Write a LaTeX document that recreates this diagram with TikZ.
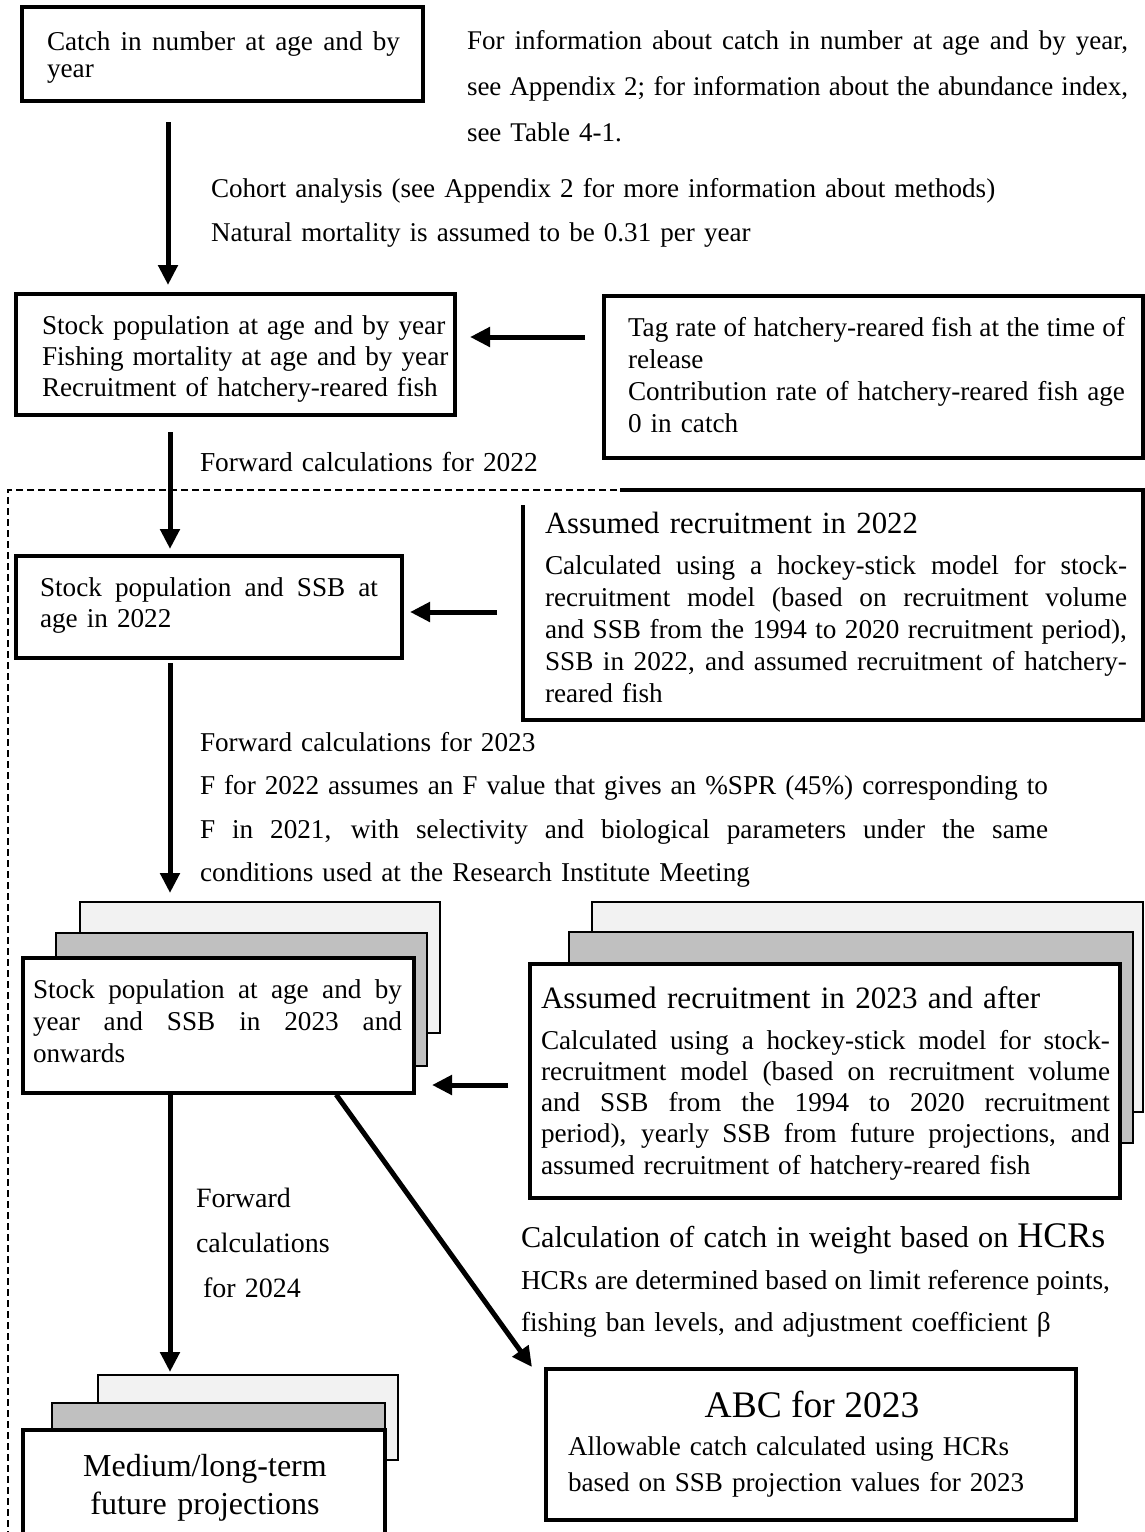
\documentclass[tikz,border=0pt]{standalone}
\usepackage{fontspec}
\setmainfont{Liberation Serif}
\usetikzlibrary{arrows.meta,calc}
\newcommand{\jline}[2]{\leavevmode\hbox to #1{\spaceskip=0.25em plus 0.8em minus 0.09em\relax #2}}
\definecolor{sheetlight}{HTML}{F2F2F2}
\definecolor{sheetmid}{HTML}{C0C0C0}
\begin{document}
\begin{tikzpicture}[x=1pt,y=-1pt,
  frame/.style={draw, line width=3.8pt, fill=white, inner sep=0pt, outer sep=0pt, anchor=north west},
  ghost/.style={draw=none, inner sep=0pt, outer sep=0pt, anchor=north west},
  backsheet/.style={draw, line width=1.8pt, fill=sheetlight, inner sep=0pt, outer sep=0pt, anchor=north west},
  midsheet/.style={draw, line width=1.8pt, fill=sheetmid, inner sep=0pt, outer sep=0pt, anchor=north west},
  txt/.style={anchor=base west, inner sep=0pt, outer sep=0pt},
  arr/.style={line width=5pt, -{Triangle[length=20pt,width=19pt]}},
  dashbox/.style={line width=2.2pt, dash pattern=on 7pt off 4pt},
]
\useasboundingbox (0,0) rectangle (1145,1532);

% ---------- boxes ----------
\node[frame, minimum width=401pt, minimum height=94pt] (b1) at (22,7) {};
\node[frame, line width=3.5pt, minimum width=439pt, minimum height=121pt] (b2) at (16,294) {};
\node[frame, minimum width=539pt, minimum height=162pt] (b3) at (604,296) {};
\node[frame, minimum width=386pt, minimum height=102pt] (b4) at (16,556) {};
\node[ghost, minimum width=620pt, minimum height=230pt] (ar22) at (523,490) {};

% dashed region
\draw[dashbox] (1145,490) -- (8,490) -- (8,1532);
\draw[line width=3.8pt] ($(ar22.north west)+(97,0)$) -- (ar22.north east) -- (ar22.south east) -- (ar22.south west) -- ($(ar22.north west)+(0,15)$);

% left stack (2023 onwards)
\node[backsheet, minimum width=360pt, minimum height=131pt] (ls3) at (80,902) {};
\node[midsheet, minimum width=371pt, minimum height=133pt] (ls2) at (56,933) {};
\node[frame, minimum width=391pt, minimum height=135pt] (ls1) at (23,958) {};

% right stack (assumed recruitment 2023)
\node[backsheet, minimum width=551pt, minimum height=210pt] (rs3) at (592,902) {};
\node[midsheet, minimum width=564pt, minimum height=211pt] (rs2) at (569,932) {};
\node[frame, minimum width=590pt, minimum height=234pt] (rs1) at (530,964) {};

% bottom stack
\node[backsheet, minimum width=300pt, minimum height=85pt] (bs3) at (98,1375) {};
\node[midsheet, minimum width=333pt, minimum height=87pt] (bs2) at (52,1403) {};
\node[frame, minimum width=362pt, minimum height=130pt] (bs1) at (23,1430) {};

% ABC box
\node[frame, minimum width=530pt, minimum height=151pt] (abc) at (546,1369) {};

% ---------- texts ----------
\node[txt, text width=360pt, font=\fontsize{27.2}{27}\selectfont] (t1) at (47,50)
  {\jline{353pt}{Catch in number at age and by}\\year};
\node[txt, text width=670pt, font=\fontsize{27}{46}\selectfont] (tinfo) at (467,49)
  {\jline{661pt}{For information about catch in number at age and by year,}\\
   \jline{661pt}{see Appendix 2; for information about the abundance index,}\\
   see Table 4-1.};
\node[txt, text width=820pt, font=\fontsize{27.1}{44}\selectfont] (tcoh) at (211,197)
  {Cohort analysis (see Appendix 2 for more information about methods)\\
   Natural mortality is assumed to be 0.31 per year};
\node[txt, text width=425pt, font=\fontsize{27.2}{31}\selectfont] (t2) at (42,334)
  {Stock population at age and by year\\
   Fishing mortality at age and by year\\
   Recruitment of hatchery-reared fish};
\node[txt, text width=505pt, font=\fontsize{27.2}{32}\selectfont] (t3) at (628,336)
  {\jline{497pt}{Tag rate of hatchery-reared fish at the time of}\\
   release\\
   \jline{497pt}{Contribution rate of hatchery-reared fish age}\\
   0 in catch};
\node[txt, text width=500pt, font=\fontsize{27.4}{44}\selectfont] (tf22) at (200,471)
  {Forward calculations for 2022};
\node[txt, text width=345pt, font=\fontsize{27.2}{31}\selectfont] (t4) at (40,596)
  {\jline{338pt}{Stock population and SSB at}\\age in 2022};
\node[txt, text width=590pt, font=\fontsize{30.8}{32}\selectfont] (tar22h) at (545,533)
  {Assumed recruitment in 2022};
\node[txt, text width=590pt, font=\fontsize{27.2}{32}\selectfont] (tar22) at (545,574)
  {\jline{582pt}{Calculated using a hockey-stick model for stock-}\\
   \jline{582pt}{recruitment model (based on recruitment volume}\\
   \jline{582pt}{and SSB from the 1994 to 2020 recruitment period),}\\
   \jline{582pt}{SSB in 2022, and assumed recruitment of hatchery-}\\
   reared fish};
\node[txt, text width=860pt, font=\fontsize{27.2}{43.5}\selectfont] (tf23) at (200,751)
  {Forward calculations for 2023\\
   \jline{848pt}{F for 2022 assumes an F value that gives an \%SPR (45\%) corresponding to}\\
   \jline{848pt}{F in 2021, with selectivity and biological parameters under the same}\\
   conditions used at the Research Institute Meeting};
\node[txt, text width=375pt, font=\fontsize{27.2}{32}\selectfont] (t5) at (33,998)
  {\jline{369pt}{Stock population at age and by}\\
   \jline{369pt}{year and SSB in 2023 and}\\
   onwards};
\node[txt, text width=580pt, font=\fontsize{31.1}{32}\selectfont] (tar23h) at (541,1008)
  {Assumed recruitment in 2023 and after};
\node[txt, text width=575pt, font=\fontsize{27.2}{31.3}\selectfont] (tar23) at (541,1049)
  {\jline{569pt}{Calculated using a hockey-stick model for stock-}\\
   \jline{569pt}{recruitment model (based on recruitment volume}\\
   \jline{569pt}{and SSB from the 1994 to 2020 recruitment}\\
   \jline{569pt}{period), yearly SSB from future projections, and}\\
   assumed recruitment of hatchery-reared fish};
\node[txt, text width=200pt, font=\fontsize{28}{45}\selectfont] (tf24) at (196,1207)
  {Forward\\calculations\\\hspace*{7pt}for 2024};
\node[txt, text width=600pt, font=\fontsize{27.3}{42}\selectfont] (thcr) at (521,1247)
  {{\fontsize{30.2}{30}\selectfont Calculation of catch in weight based on }{\fontsize{36}{36}\selectfont HCRs}\\
   \jline{589pt}{HCRs are determined based on limit reference points,}\\
   fishing ban levels, and adjustment coefficient β};
\node[anchor=base, inner sep=0pt, font=\fontsize{37.5}{37}\selectfont] (tabch) at (812,1417)
  {ABC for 2023};
\node[txt, text width=480pt, font=\fontsize{27.1}{36}\selectfont] (tabc) at (568,1455)
  {Allowable catch calculated using HCRs\\
   based on SSB projection values for 2023};
\node[anchor=base, inner sep=0pt, text width=340pt, font=\fontsize{32}{38}\selectfont] (tmed) at (205,1476)
  {\centering Medium/long-term\\future projections\par};

% ---------- connectors ----------
\coordinate (xa) at (168,0);
\coordinate (xb) at (170,0);
\coordinate (xd) at (335,0);
\coordinate (ya) at (0,337);
\coordinate (yb) at (0,612);
\coordinate (yc) at (0,1085);
\coordinate (abctip) at (532,1367);

\draw[arr, shorten <=21pt, shorten >=9pt] (b1.south -| xa) -- (b2.north -| xa);
\draw[arr, shorten <=19pt, shorten >=15pt] (b3.west |- ya) -- (b2.east |- ya);
\draw[arr, shorten <=17pt, shorten >=7pt] (b2.south -| xb) -- (b4.north -| xb);
\draw[arr, shorten <=26pt, shorten >=8pt] (ar22.west |- yb) -- (b4.east |- yb);
\draw[arr, shorten <=5pt, shorten >=9pt] (b4.south -| xb) -- (ls3.north -| xb);
\draw[arr, shorten <=22pt, shorten >=18pt] (rs1.west |- yc) -- (ls1.east |- yc);
\draw[arr, shorten <=2pt, shorten >=3pt] (ls1.south -| xb) -- (bs3.north -| xb);
\draw[arr, shorten <=2pt] (ls1.south -| xd) -- (abctip);
\end{tikzpicture}
\end{document}
